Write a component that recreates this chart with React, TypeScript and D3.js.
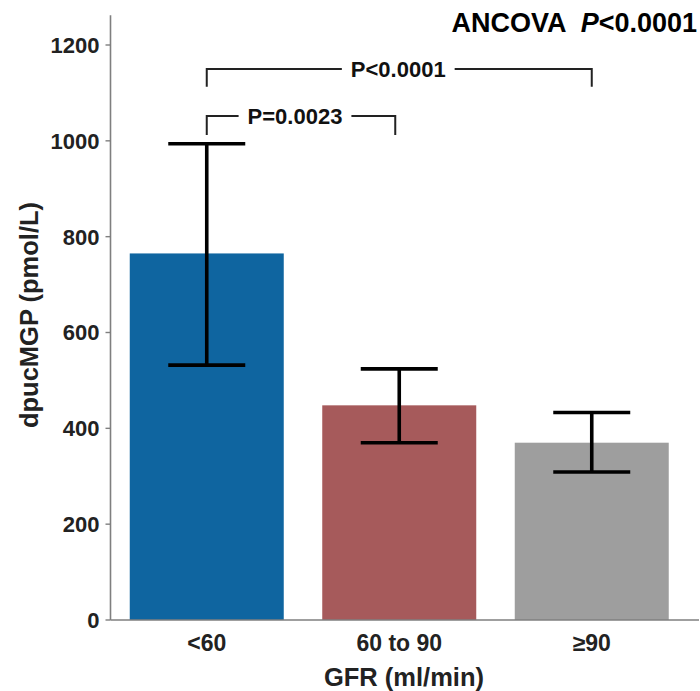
import React, { useEffect, useRef } from "react";
import * as d3 from "d3";

const categories: string[] = ["<60", "60 to 90", "≥90"];
const means: number[] = [765, 448, 370];
const upper: number[] = [994, 524, 433];
const lower: number[] = [532, 370, 309];
const colors: string[] = ["#0f65a0", "#a65a5b", "#9e9e9e"];
const yTicks: number[] = [0, 200, 400, 600, 800, 1000, 1200];
const comparisons = [
  { from: 0, to: 1, label: "P=0.0023", level: 1052, drop: 1012 },
  { from: 0, to: 2, label: "P<0.0001", level: 1150, drop: 1113 },
];

const W = 700;
const H = 691;
const FONT = "'Liberation Sans', Arial, Helvetica, sans-serif";

export default function App() {
  const ref = useRef<SVGSVGElement | null>(null);

  useEffect(() => {
    const svg = d3.select(ref.current);
    svg.selectAll("*").remove();

    const x0 = 110.5, x1 = 688;
    const y = d3.scaleLinear().domain([0, 1200]).range([620, 45]);
    const x = d3
      .scaleBand<string>()
      .domain(categories)
      .range([x0, x1])
      .paddingInner(0.2)
      .paddingOuter(0.1);
    const bw = x.bandwidth();
    const cx = (i: number) => (x(categories[i]) as number) + bw / 2;

    // bars
    svg
      .append("g")
      .selectAll("rect")
      .data(categories)
      .join("rect")
      .attr("x", (d) => x(d) as number)
      .attr("width", bw)
      .attr("y", (_, i) => y(means[i]))
      .attr("height", (_, i) => y(0) - y(means[i]))
      .attr("fill", (_, i) => colors[i]);

    // error bars
    const eb = svg.append("g").attr("stroke", "#000").attr("stroke-width", 3.6).attr("fill", "none");
    categories.forEach((_, i) => {
      const c = cx(i);
      const hw = bw / 4;
      eb.append("line").attr("x1", c).attr("x2", c).attr("y1", y(upper[i])).attr("y2", y(lower[i]));
      eb.append("line").attr("x1", c - hw).attr("x2", c + hw).attr("y1", y(upper[i])).attr("y2", y(upper[i]));
      eb.append("line").attr("x1", c - hw).attr("x2", c + hw).attr("y1", y(lower[i])).attr("y2", y(lower[i]));
    });

    // axes
    const axisColor = "#7f7f7f";
    svg
      .append("line")
      .attr("x1", x0).attr("x2", x0)
      .attr("y1", y(1262)).attr("y2", y(0))
      .attr("stroke", axisColor).attr("stroke-width", 1.6);
    svg
      .append("line")
      .attr("x1", x0).attr("x2", 699)
      .attr("y1", y(0)).attr("y2", y(0))
      .attr("stroke", axisColor).attr("stroke-width", 1.6);

    const yt = svg.append("g");
    yTicks.forEach((t) => {
      yt.append("line")
        .attr("x1", x0 - 5).attr("x2", x0)
        .attr("y1", y(t)).attr("y2", y(t))
        .attr("stroke", axisColor).attr("stroke-width", 1.4);
      yt.append("text")
        .attr("x", x0 - 11)
        .attr("y", y(t))
        .attr("dy", "0.36em")
        .attr("text-anchor", "end")
        .attr("font-family", FONT)
        .attr("font-weight", "bold")
        .attr("font-size", 22)
        .attr("fill", "#222")
        .text(String(t));
    });

    categories.forEach((c, i) => {
      svg
        .append("text")
        .attr("x", cx(i))
        .attr("y", 651)
        .attr("text-anchor", "middle")
        .attr("font-family", FONT)
        .attr("font-weight", "bold")
        .attr("font-size", 23)
        .attr("fill", "#222")
        .text(c);
    });

    svg
      .append("text")
      .attr("x", 404)
      .attr("y", 686)
      .attr("text-anchor", "middle")
      .attr("font-family", FONT)
      .attr("font-weight", "bold")
      .attr("font-size", 25.5)
      .attr("fill", "#222")
      .text("GFR (ml/min)");

    svg
      .append("text")
      .attr("transform", `translate(38,${315}) rotate(-90)`)
      .attr("text-anchor", "middle")
      .attr("font-family", FONT)
      .attr("font-weight", "bold")
      .attr("font-size", 25.5)
      .attr("fill", "#222")
      .text("dpucMGP (pmol/L)");

    // title
    const title = svg
      .append("text")
      .attr("x", 697)
      .attr("y", 32)
      .attr("text-anchor", "end")
      .attr("font-family", FONT)
      .attr("font-weight", "bold")
      .attr("font-size", 27)
      .attr("fill", "#000")
      .attr("xml:space", "preserve");
    title.append("tspan").text("ANCOVA  ");
    title.append("tspan").attr("font-style", "italic").text("P");
    title.append("tspan").text("<0.0001");

    // comparison brackets
    comparisons.forEach((cmp) => {
      const g = svg.append("g");
      const xa = cx(cmp.from);
      const xb = cmp.to === 1 ? cx(cmp.to) - 4 : cx(cmp.to);
      const yl = y(cmp.level);
      const yd = y(cmp.drop);
      const mid = (xa + xb) / 2 - (cmp.to === 1 ? 6 : 1);
      const txt = g
        .append("text")
        .attr("x", mid)
        .attr("y", yl)
        .attr("dy", "0.36em")
        .attr("text-anchor", "middle")
        .attr("font-family", FONT)
        .attr("font-weight", "bold")
        .attr("font-size", 22)
        .attr("fill", "#111")
        .text(cmp.label);
      const tw = (txt.node() as SVGTextElement).getComputedTextLength();
      const gap = 9;
      const st = { stroke: "#222", w: 2 };
      g.append("path")
        .attr("d", `M${xa},${yd}V${yl}H${mid - tw / 2 - gap}`)
        .attr("fill", "none").attr("stroke", st.stroke).attr("stroke-width", st.w);
      g.append("path")
        .attr("d", `M${mid + tw / 2 + gap},${yl}H${xb}V${yd}`)
        .attr("fill", "none").attr("stroke", st.stroke).attr("stroke-width", st.w);
    });
  }, []);

  return (
    <svg
      ref={ref}
      width={W}
      height={H}
      style={{ display: "block", position: "absolute", left: 0, top: 0, background: "#fff" }}
    />
  );
}
